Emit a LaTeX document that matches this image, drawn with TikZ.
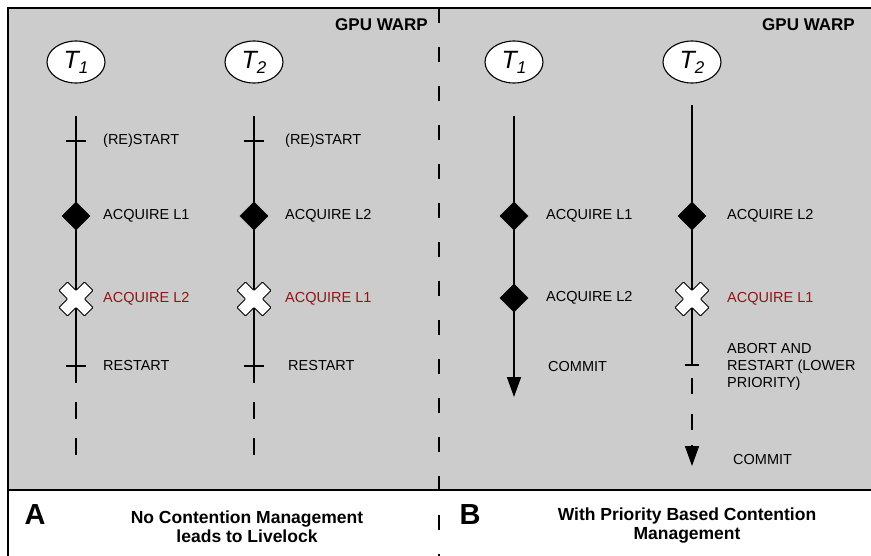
\documentclass[tikz,border=0pt]{standalone}
\usepackage{fontspec}
\setmainfont{Liberation Sans}
\usetikzlibrary{shapes.geometric}
\usetikzlibrary{arrows.meta}

\definecolor{warpgrey}{RGB}{204,204,204}
\definecolor{failred}{RGB}{140,22,22}

\newcommand{\thr}[1]{\fontsize{25}{25}\selectfont\itshape T\raisebox{-5pt}{\fontsize{17}{17}\selectfont #1}}

\tikzset{
  thread/.style={draw, ellipse, fill=white, line width=1.1pt,
    minimum width=58pt, minimum height=42pt, inner sep=0pt},
  lane/.style={line width=1.6pt},
  lanedash/.style={line width=1.6pt, dash pattern=on 17pt off 19pt},
  tickmark/.style={line width=1.4pt},
  acquire/.style={diamond, fill=black, minimum width=29pt, minimum height=29pt, inner sep=0pt},
  evt/.style={anchor=west, inner sep=0pt, font=\fontsize{14.5}{17}\selectfont},
  evtfail/.style={evt, text=failred},
  caption/.style={align=center, inner sep=0pt, font=\fontsize{17.5}{19}\selectfont\bfseries},
  panel/.style={inner sep=0pt, font=\fontsize{29}{29}\selectfont\bfseries},
  warp/.style={anchor=east, inner sep=0pt, font=\fontsize{17}{17}\selectfont\bfseries},
  pics/failmark/.style={code={
    \draw[fill=white, line width=0.9pt, rounded corners=0.8pt, rotate=45]
      (6,6) -- (18,6) -- (18,-6) -- (6,-6) -- (6,-18) -- (-6,-18) -- (-6,-6)
      -- (-18,-6) -- (-18,6) -- (-6,6) -- (-6,18) -- (6,18) -- cycle;
  }},
}

\begin{document}
\begin{tikzpicture}[x=1pt, y=-1pt]
  \useasboundingbox (0,0) rectangle (871,555);
  % frame of the warp
  \fill[warpgrey] (8,8) rectangle (880,490);
  \draw[line width=1.8pt] (8,565) -- (8,8) -- (880,8);
  \draw[line width=1.8pt] (8,490) -- (880,490);
  \draw[line width=1.8pt, dash pattern=on 15pt off 24pt] (439,8) -- (439,560);

  \node[warp] (warpa) at (428,25) {GPU WARP};
  \node[warp] (warpb) at (855,25) {GPU WARP};

  % ---- panel A ----
  \node[thread] (a1) at (76,62) {\thr{1}};
  \node[thread] (a2) at (254,62) {\thr{2}};

  \coordinate (a1top) at (76,116);
  \coordinate (a1start) at (76,141);
  \coordinate (a1lock) at (76,216);
  \coordinate (a1fail) at (76,299);
  \coordinate (a1restart) at (76,366);
  \coordinate (a1end) at (76,383);
  \coordinate (a1dash) at (76,402);
  \coordinate (a1stop) at (76,456);
  \draw[lane] (a1top) -- (a1end);
  \draw[lanedash] (a1dash) -- (a1stop);
  \draw[tickmark] ([xshift=-10pt]a1start) -- ([xshift=10pt]a1start);
  \draw[tickmark] ([xshift=-10pt]a1restart) -- ([xshift=10pt]a1restart);
  \node[acquire] (a1acq) at (a1lock) {};
  \pic at (a1fail) {failmark};
  \node[evt] (a1l1) at (103,141) {(RE)START};
  \node[evt] (a1l2) at (103,216) {ACQUIRE L1};
  \node[evtfail] (a1l3) at (103,299) {ACQUIRE L2};
  \node[evt] (a1l4) at (103,366) {RESTART};

  \coordinate (a2top) at (254,116);
  \coordinate (a2start) at (254,141);
  \coordinate (a2lock) at (254,216);
  \coordinate (a2fail) at (254,299);
  \coordinate (a2restart) at (254,366);
  \coordinate (a2end) at (254,383);
  \coordinate (a2dash) at (254,402);
  \coordinate (a2stop) at (254,456);
  \draw[lane] (a2top) -- (a2end);
  \draw[lanedash] (a2dash) -- (a2stop);
  \draw[tickmark] ([xshift=-10pt]a2start) -- ([xshift=10pt]a2start);
  \draw[tickmark] ([xshift=-10pt]a2restart) -- ([xshift=10pt]a2restart);
  \node[acquire] (a2acq) at (a2lock) {};
  \pic at (a2fail) {failmark};
  \node[evt] (a2l1) at (285,141) {(RE)START};
  \node[evt] (a2l2) at (285,216) {ACQUIRE L2};
  \node[evtfail] (a2l3) at (285,299) {ACQUIRE L1};
  \node[evt] (a2l4) at (288,366) {RESTART};

  \node[panel] (pa) at (35,515) {A};
  \node[caption] (capa) at (247,527) {No Contention Management\\leads to Livelock};

  % ---- panel B ----
  \node[thread] (b1) at (514,62) {\thr{1}};
  \node[thread] (b2) at (692,62) {\thr{2}};

  \coordinate (b1top) at (514,116);
  \coordinate (b1lock) at (514,216);
  \coordinate (b1lockb) at (514,298);
  \coordinate (b1end) at (514,397);
  \draw[lane, -{Triangle[width=14pt,length=20pt]}] (b1top) -- (b1end);
  \node[acquire] (b1acq) at (b1lock) {};
  \node[acquire] (b1acqb) at (b1lockb) {};
  \node[evt] (b1l1) at (546,216) {ACQUIRE L1};
  \node[evt] (b1l2) at (546,298) {ACQUIRE L2};
  \node[evt] (b1l3) at (548,367) {COMMIT};

  \coordinate (b2top) at (692,105);
  \coordinate (b2lock) at (692,216);
  \coordinate (b2fail) at (692,299);
  \coordinate (b2abort) at (692,365);
  \coordinate (b2dash) at (692,378);
  \coordinate (b2stop) at (692,432);
  \coordinate (b2tip) at (692,445);
  \coordinate (b2end) at (692,466);
  \draw[lane] (b2top) -- (b2abort);
  \draw[lanedash, dash pattern=on 16pt off 20pt] (b2dash) -- (b2stop);
  \draw[lane, -{Triangle[width=14pt,length=20pt]}] (b2tip) -- (b2end);
  \draw[tickmark] ([xshift=-7pt]b2abort) -- ([xshift=7pt]b2abort);
  \node[acquire] (b2acq) at (b2lock) {};
  \pic at (b2fail) {failmark};
  \node[evt] (b2l1) at (727,216) {ACQUIRE L2};
  \node[evtfail] (b2l2) at (727,299) {ACQUIRE L1};
  \node[evt, align=left] (b2l3) at (727,367) {ABORT AND\\RESTART (LOWER\\PRIORITY)};
  \node[evt] (b2l4) at (733,460) {COMMIT};

  \node[panel] (pb) at (470,515) {B};
  \node[caption] (capb) at (687,526) {With Priority Based Contention\\Management};
\end{tikzpicture}
\end{document}
